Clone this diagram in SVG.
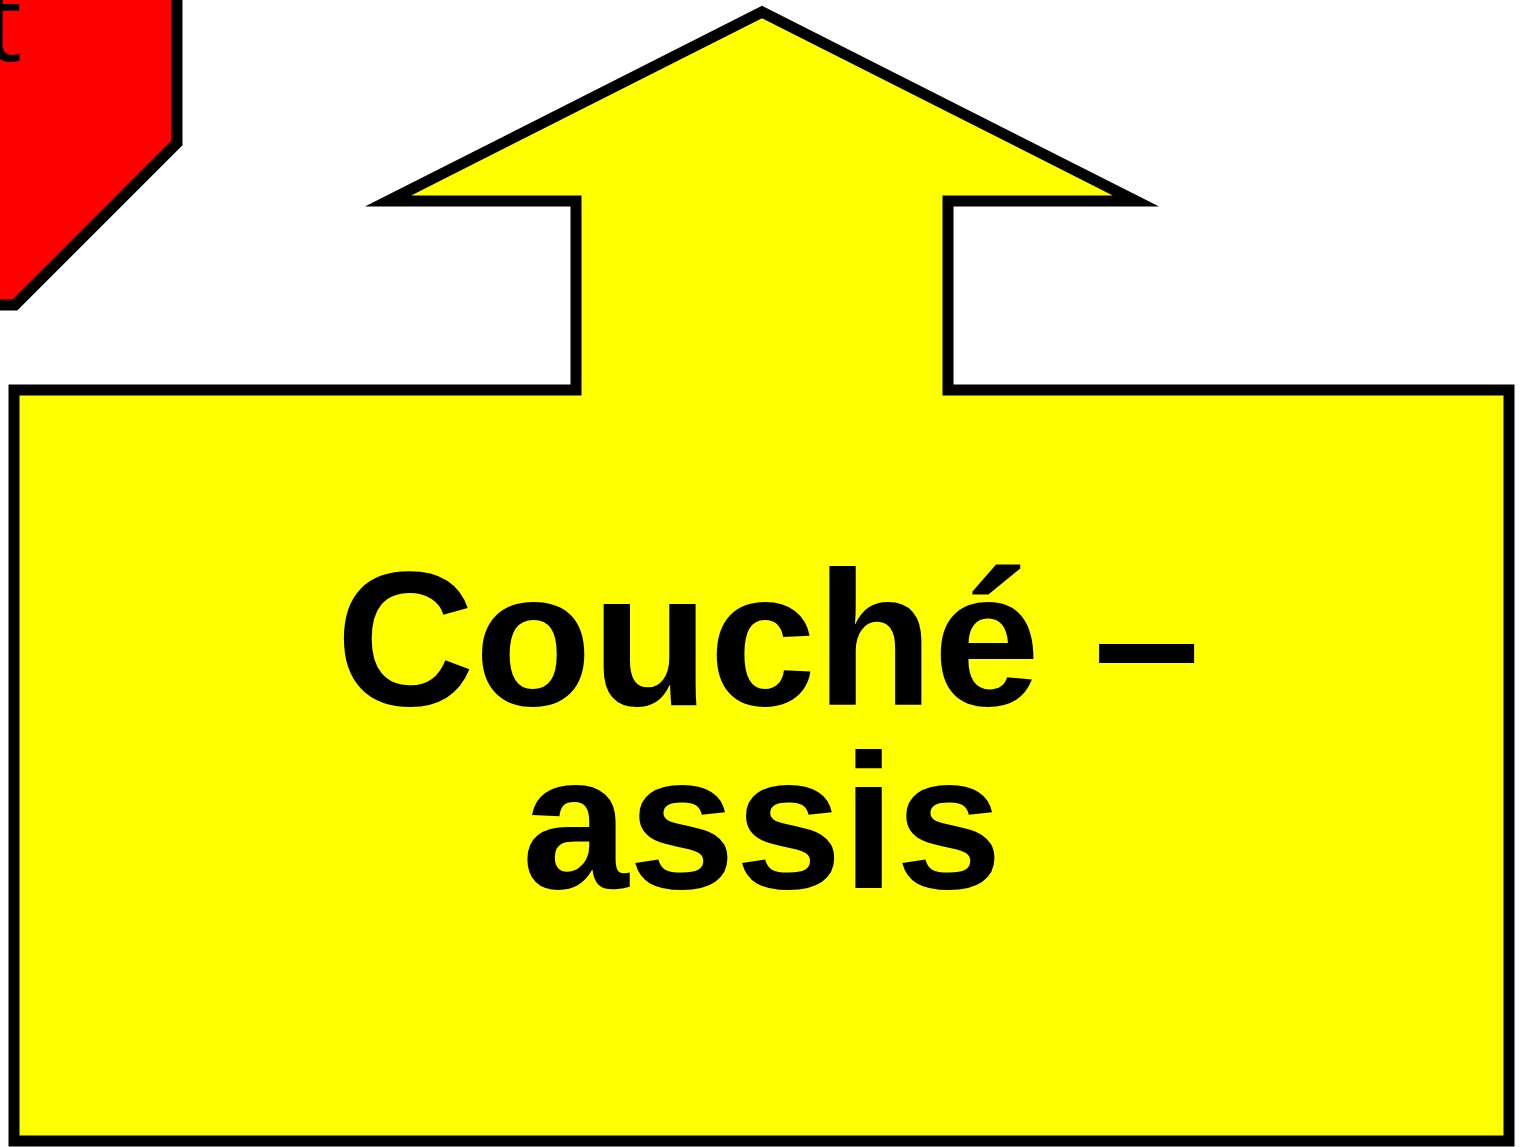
<svg xmlns="http://www.w3.org/2000/svg" width="1522" height="1147" viewBox="0 0 1522 1147">
<style>
.shape{stroke:#000;stroke-width:11;stroke-miterlimit:10;stroke-linejoin:miter}
.lbl{font-family:"Liberation Sans",Arial,sans-serif;font-weight:bold;font-size:192px;fill:#000}
</style>
<rect width="1522" height="1147" fill="#fff"/>
<g id="node-red">
<polygon class="shape" fill="#ff0000" points="-100,-50 177,-50 177,143 15,305 -100,305"/>
<text x="22" y="61" text-anchor="end" font-family="'Open Sans','Noto Sans',sans-serif" font-size="106" fill="#000">t</text>
</g>
<g id="node-yellow">
<polygon class="shape" fill="#ffff00" points="14,390 576,390 576,201 388,201 762,12 1136,201 948,201 948,390 1509,390 1509,1141 14,1141"/>
<text class="lbl" x="768" y="705" text-anchor="middle">Couché –</text>
<text class="lbl" x="762" y="888" text-anchor="middle">assis</text>
</g>
<g id="connectors"></g>
</svg>
